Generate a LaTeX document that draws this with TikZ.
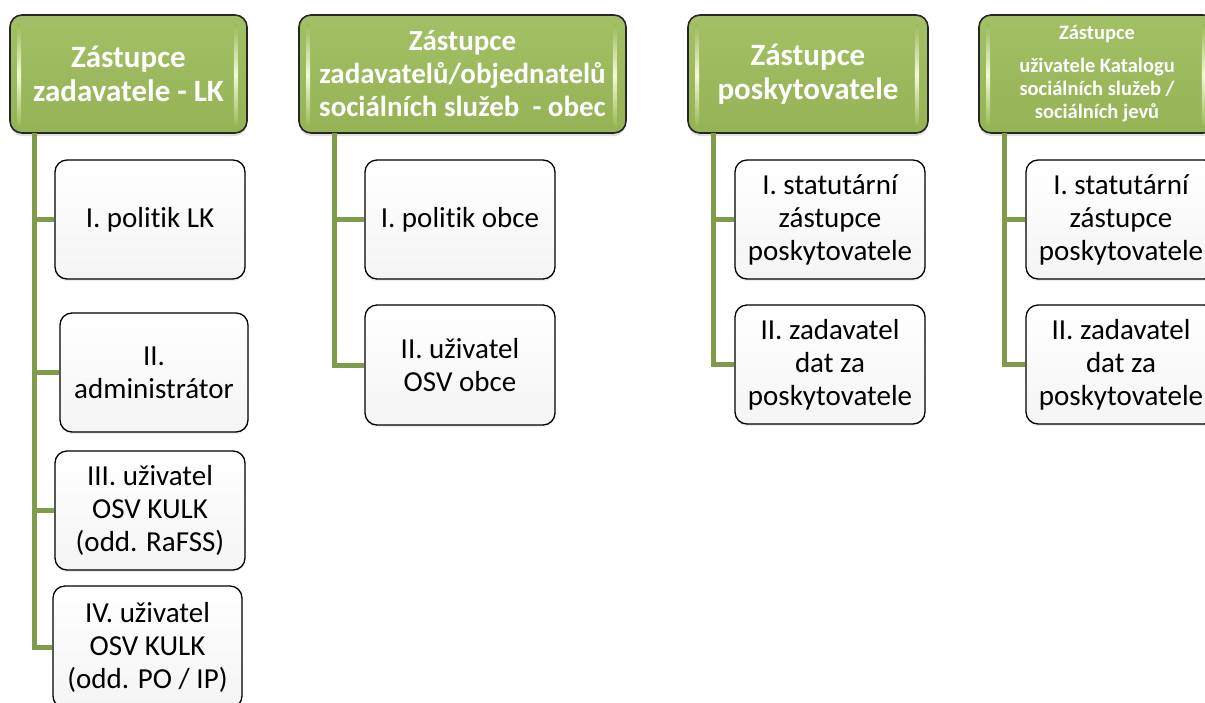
\documentclass[tikz,border=0pt]{standalone}
\usepackage{fontspec}
\setmainfont{Carlito}[Ligatures=NoCommon]
\usetikzlibrary{shadows,calc}
\definecolor{hdrgreen}{HTML}{9BBB59}
\definecolor{conngreen}{HTML}{7F9C4A}
\definecolor{stripc}{HTML}{F4F9DC}
\begin{document}
\begin{tikzpicture}[x=1pt,y=-1pt,
  hdr/.style={draw=black!85, line width=1.6pt, rounded corners=12pt,
    top color=hdrgreen!93!white, bottom color=hdrgreen!96!black,
    text=white, align=center, inner sep=0pt,
    drop shadow={shadow xshift=0pt, shadow yshift=-3pt, opacity=0.25}},
  hfont/.style={font=\bfseries\fontsize{31}{34}\selectfont},
  childbox/.style={draw=black, line width=1.3pt, rounded corners=12pt,
    top color=white, bottom color=black!4, text=black, align=center,
    inner sep=0pt, minimum width=190pt, minimum height=119pt,
    font=\fontsize{29}{33}\selectfont,
    drop shadow={shadow xshift=0pt, shadow yshift=-2pt, opacity=0.15}},
  conn/.style={draw=conngreen, line width=5pt}]
\useasboundingbox (0,0) rectangle (1205,702);
\clip (0,0) rectangle (1205,702);

% headers
\node[hdr, hfont, minimum width=237pt, minimum height=118pt] (h1) at (128.5,74)
  {Zástupce\\zadavatele - LK};
\node[hdr, font=\bfseries\fontsize{29}{33}\selectfont, minimum width=327pt, minimum height=118pt] (h2) at (462.5,74)
  {Zástupce\\zadavatelů/objednatelů\\sociálních služeb\ \ - obec};
\node[hdr, hfont, minimum width=240pt, minimum height=118pt] (h3) at (808,74)
  {Zástupce\\poskytovatele};
\node[hdr, font=\bfseries\fontsize{20.5}{23}\selectfont, minimum width=236pt, minimum height=118pt] (h4) at (1097,74)
  {Zástupce\\[10pt]uživatele Katalogu\\sociálních služeb /\\sociálních jevů};

% glossy strips
\foreach \h in {h1,h2,h3,h4}{
  \shade[top color=hdrgreen, bottom color=hdrgreen, middle color=stripc, rounded corners=2pt]
    ($(\h.north west)+(8,10)$) rectangle ($(\h.south west)+(12,-8)$);
  \shade[top color=hdrgreen, bottom color=hdrgreen, middle color=stripc, rounded corners=2pt]
    ($(\h.north east)+(-14,10)$) rectangle ($(\h.south east)+(-10,-8)$);
}

% children column 1
\node[childbox] (a1) at (150,219.5) {I. politik LK};
\node[childbox, minimum width=188pt] (a2) at (154,372.5) {II.\\administrátor};
\node[childbox] (a3) at (150,510.5) {III. uživatel\\OSV KULK\\(odd. RaFSS)};
\node[childbox, minimum width=189pt, minimum height=122pt] (a4) at (147.5,647) {IV. uživatel\\OSV KULK\\(odd. PO / IP)};

% children column 2
\node[childbox] (b1) at (460,219.5) {I. politik obce};
\node[childbox, minimum height=120pt] (b2) at (460,365) {II. uživatel\\OSV obce};

% children column 3
\node[childbox] (c1) at (830,219.5) {I. statutární\\zástupce\\poskytovatele};
\node[childbox] (c2) at (830,364.5) {II. zadavatel\\dat za\\poskytovatele};

% children column 4
\node[childbox] (d1) at (1121,219.5) {I. statutární\\zástupce\\poskytovatele};
\node[childbox] (d2) at (1121,364.5) {II. zadavatel\\dat za\\poskytovatele};

% connectors
\coordinate (t1) at (34,133);
\coordinate (t2) at (334,133);
\coordinate (t3) at (713,133);
\coordinate (t4) at (1004,133);
\foreach \c in {a1,a2,a3,a4} \draw[conn] (t1) |- (\c.west);
\foreach \c in {b1,b2} \draw[conn] (t2) |- (\c.west);
\foreach \c in {c1,c2} \draw[conn] (t3) |- (\c.west);
\foreach \c in {d1,d2} \draw[conn] (t4) |- (\c.west);
\end{tikzpicture}
\end{document}
